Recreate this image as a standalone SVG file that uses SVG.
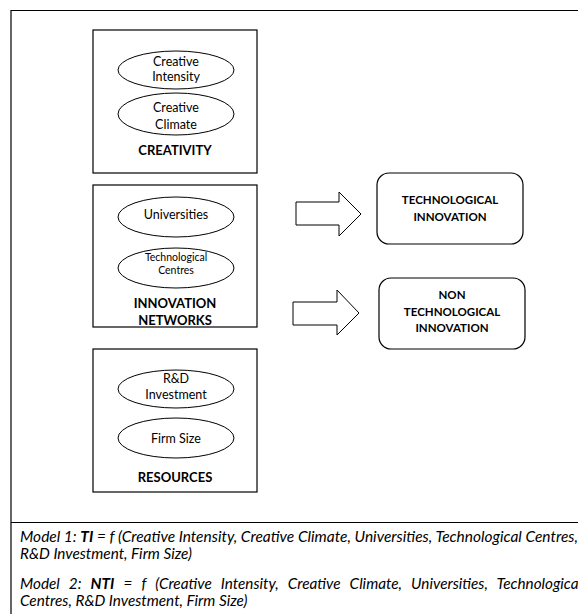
<svg xmlns="http://www.w3.org/2000/svg" width="578" height="614" viewBox="0 0 578 614">
  <style>
    .frame { fill: none; stroke: #000; stroke-width: 1.2; }
    .box { fill: #fff; stroke: #000; stroke-width: 1.2; }
    .ell { fill: #fff; stroke: #000; stroke-width: 1; }
    .arrow { fill: #fff; stroke: #000; stroke-width: 1; stroke-linejoin: miter; }
    text { font-family: Lato, "Liberation Sans", sans-serif; fill: #000; }
    .t { font-size: 12.5px; text-anchor: middle; }
    .ts { font-size: 10.5px; text-anchor: middle; }
    .b { font-size: 13px; font-weight: bold; text-anchor: middle; }
    .bs { font-size: 11.5px; font-weight: bold; text-anchor: middle; }
    .m { font-size: 15.3px; font-style: italic; }
    .mb { font-weight: bold; }
  </style>
  <rect x="0" y="0" width="578" height="614" fill="#fff"/>
  <g id="frame">
    <polyline class="frame" points="11,614 11,10.5 590,10.5"/>
    <line class="frame" x1="11" y1="522.5" x2="590" y2="522.5"/>
  </g>
  <g id="creativity">
    <rect class="box" x="93" y="30" width="164" height="143"/>
    <ellipse class="ell" cx="176" cy="70" rx="58" ry="19"/>
    <text class="t" x="176" y="66">Creative</text>
    <text class="t" x="176" y="81">Intensity</text>
    <ellipse class="ell" cx="176" cy="114" rx="58" ry="21"/>
    <text class="t" x="176" y="112">Creative</text>
    <text class="t" x="176" y="129">Climate</text>
    <text class="b" x="175" y="155">CREATIVITY</text>
  </g>
  <g id="innovation-networks">
    <rect class="box" x="93" y="185" width="164" height="142"/>
    <ellipse class="ell" cx="176" cy="217" rx="58" ry="20"/>
    <text class="t" x="176" y="219">Universities</text>
    <ellipse class="ell" cx="176" cy="268" rx="58" ry="20"/>
    <text class="ts" x="176" y="261">Technological</text>
    <text class="ts" x="176" y="274">Centres</text>
    <text class="b" x="175" y="308">INNOVATION</text>
    <text class="b" x="175" y="325">NETWORKS</text>
  </g>
  <g id="resources">
    <rect class="box" x="93" y="349" width="164" height="143"/>
    <ellipse class="ell" cx="176" cy="389" rx="58" ry="19"/>
    <text class="t" x="176" y="383">R&amp;D</text>
    <text class="t" x="176" y="399">Investment</text>
    <ellipse class="ell" cx="176" cy="438" rx="58" ry="20"/>
    <text class="t" x="176" y="443">Firm Size</text>
    <text class="b" x="175" y="482">RESOURCES</text>
  </g>
  <g id="technological-innovation">
    <rect class="box" x="377" y="173" width="146" height="71" rx="12"/>
    <text class="bs" x="450" y="204">TECHNOLOGICAL</text>
    <text class="bs" x="450" y="221">INNOVATION</text>
  </g>
  <g id="non-technological-innovation">
    <rect class="box" x="379" y="278" width="146" height="71" rx="12"/>
    <text class="bs" x="452" y="299">NON</text>
    <text class="bs" x="452" y="316">TECHNOLOGICAL</text>
    <text class="bs" x="452" y="332">INNOVATION</text>
  </g>
  <g id="connectors">
    <polygon class="arrow" points="296,202 339,202 339,192 361,214 339,236 339,225 296,225"/>
    <polygon class="arrow" points="293,302 337,302 337,290 359,313 337,335 337,325 293,325"/>
  </g>
  <g id="models">
    <text class="m" x="20" y="542" textLength="558" lengthAdjust="spacingAndGlyphs">Model 1: <tspan class="mb">TI</tspan> = f (Creative Intensity, Creative Climate, Universities, Technological Centres,</text>
    <text class="m" x="20" y="559">R&amp;D Investment, Firm Size)</text>
    <text class="m" x="20" y="589" style="word-spacing:5.5px">Model 2: <tspan class="mb">NTI</tspan> = f (Creative Intensity, Creative Climate, Universities, Technological</text>
    <text class="m" x="20" y="606">Centres, R&amp;D Investment, Firm Size)</text>
  </g>
</svg>
